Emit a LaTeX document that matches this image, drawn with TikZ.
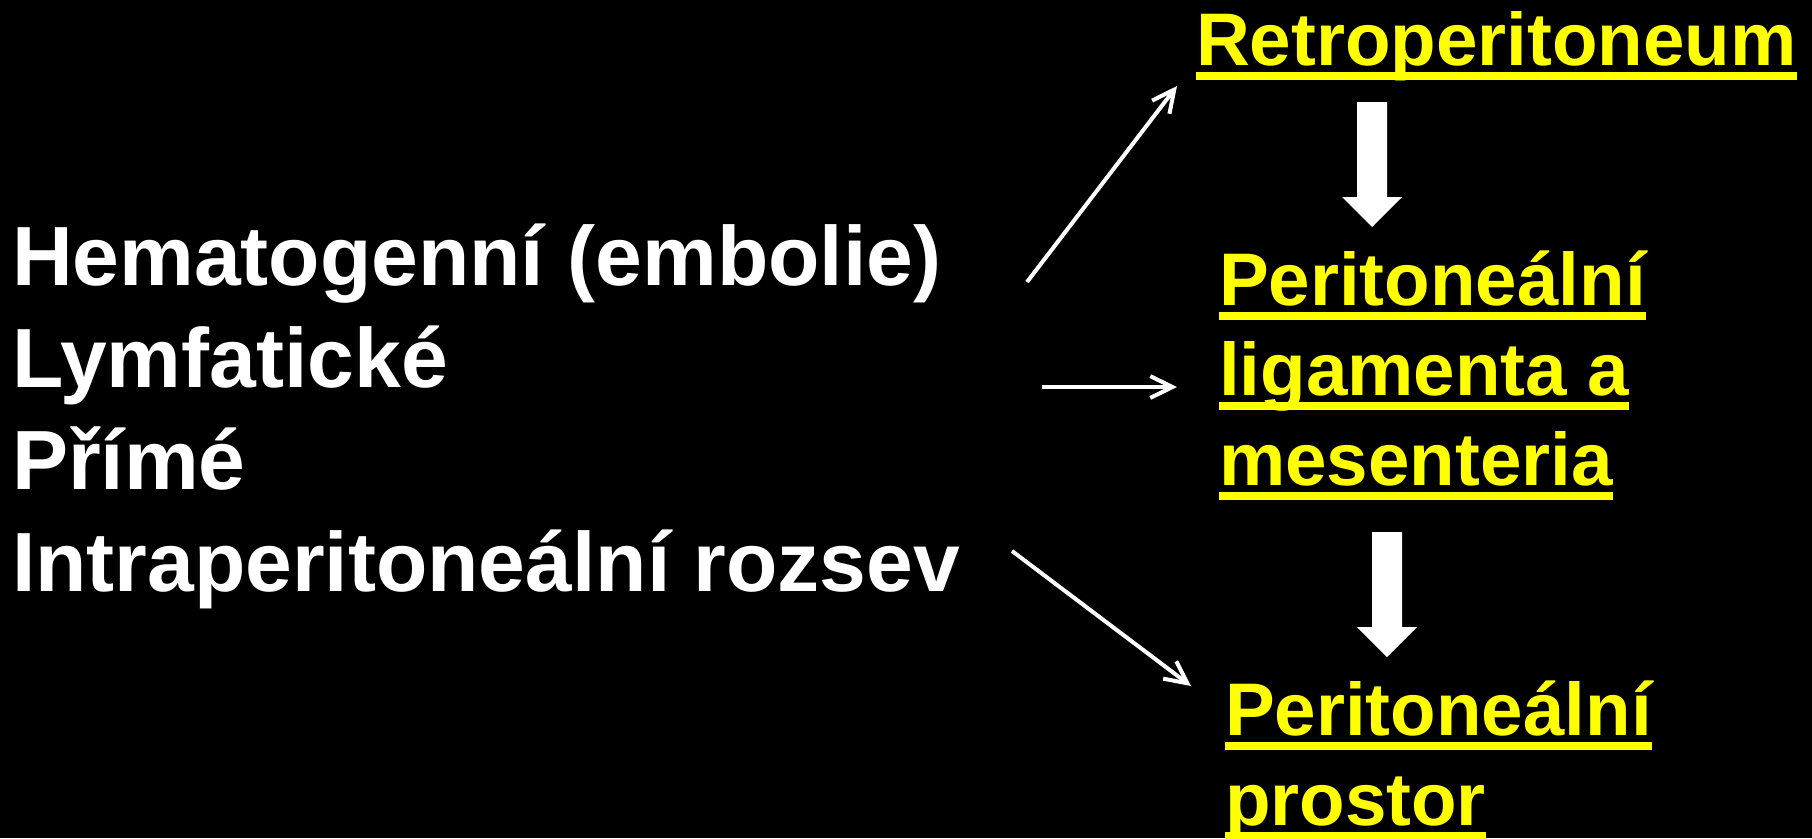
\documentclass[tikz,border=0pt]{standalone}
\usepackage{fontspec}
\setmainfont{Liberation Sans}
\usetikzlibrary{arrows.meta,calc}
\definecolor{yellowc}{RGB}{255,255,0}
\begin{document}
\begin{tikzpicture}[x=0.01cm,y=-0.01cm,
  lefttext/.style={anchor=base west,inner sep=0pt,outer sep=0pt,text=white,font=\fontsize{23.9pt}{28pt}\selectfont\bfseries},
  righttext/.style={anchor=base west,inner sep=0pt,outer sep=0pt,text=yellowc,font=\fontsize{21.2pt}{25pt}\selectfont\bfseries},
  thinarrow/.style={draw=white,line width=1.14pt,-{Straight Barb[length=6.3pt,width=6.2pt]}},
  blockarrow/.style={fill=white,draw=none},
  uline/.style={fill=yellowc,draw=none}]
\fill[black] (0,0) rectangle (1812,838);
\useasboundingbox (0,0) rectangle (1812,838);

% left column
\node[lefttext] (l1) at (12,285) {Hematogenní (embolie)};
\node[lefttext] (l2) at (12,387) {Lymfatické};
\node[lefttext] (l3) at (12,489) {Přímé};
\node[lefttext] (l4) at (12,591) {Intraperitoneální rozsev};

% right column
\node[righttext] (r1) at (1196,65) {Retroperitoneum};
\node[righttext] (r2a) at (1219,305) {Peritoneální};
\node[righttext] (r2b) at (1219,395) {ligamenta a};
\node[righttext] (r2c) at (1219,485) {mesenteria};
\node[righttext] (r3a) at (1225,735) {Peritoneální};
\node[righttext] (r3b) at (1225,825) {prostor};

% underlines
\foreach \n in {r1,r2a,r2b,r2c,r3a,r3b}{
  \fill[uline] ($(\n.base west)+(0,7.4)$) rectangle ($(\n.base east)+(0,14.8)$);
}

% thin arrows
\coordinate (a1s) at (1027,282);
\coordinate (a1e) at (1177,86);
\coordinate (a2s) at (1042,387);
\coordinate (a2e) at (1177,387);
\coordinate (a3s) at (1012,551);
\coordinate (a3e) at (1191,686);
\draw[thinarrow] (a1s) -- (a1e);
\draw[thinarrow] (a2s) -- (a2e);
\draw[thinarrow] (a3s) -- (a3e);

% block arrows
\fill[blockarrow] (1357,102) -- (1387,102) -- (1387,197) -- (1402,197) -- (1372,227) -- (1342,197) -- (1357,197) -- cycle;
\fill[blockarrow] (1372,532) -- (1402,532) -- (1402,627) -- (1417,627) -- (1387,657) -- (1357,627) -- (1372,627) -- cycle;
\end{tikzpicture}
\end{document}
